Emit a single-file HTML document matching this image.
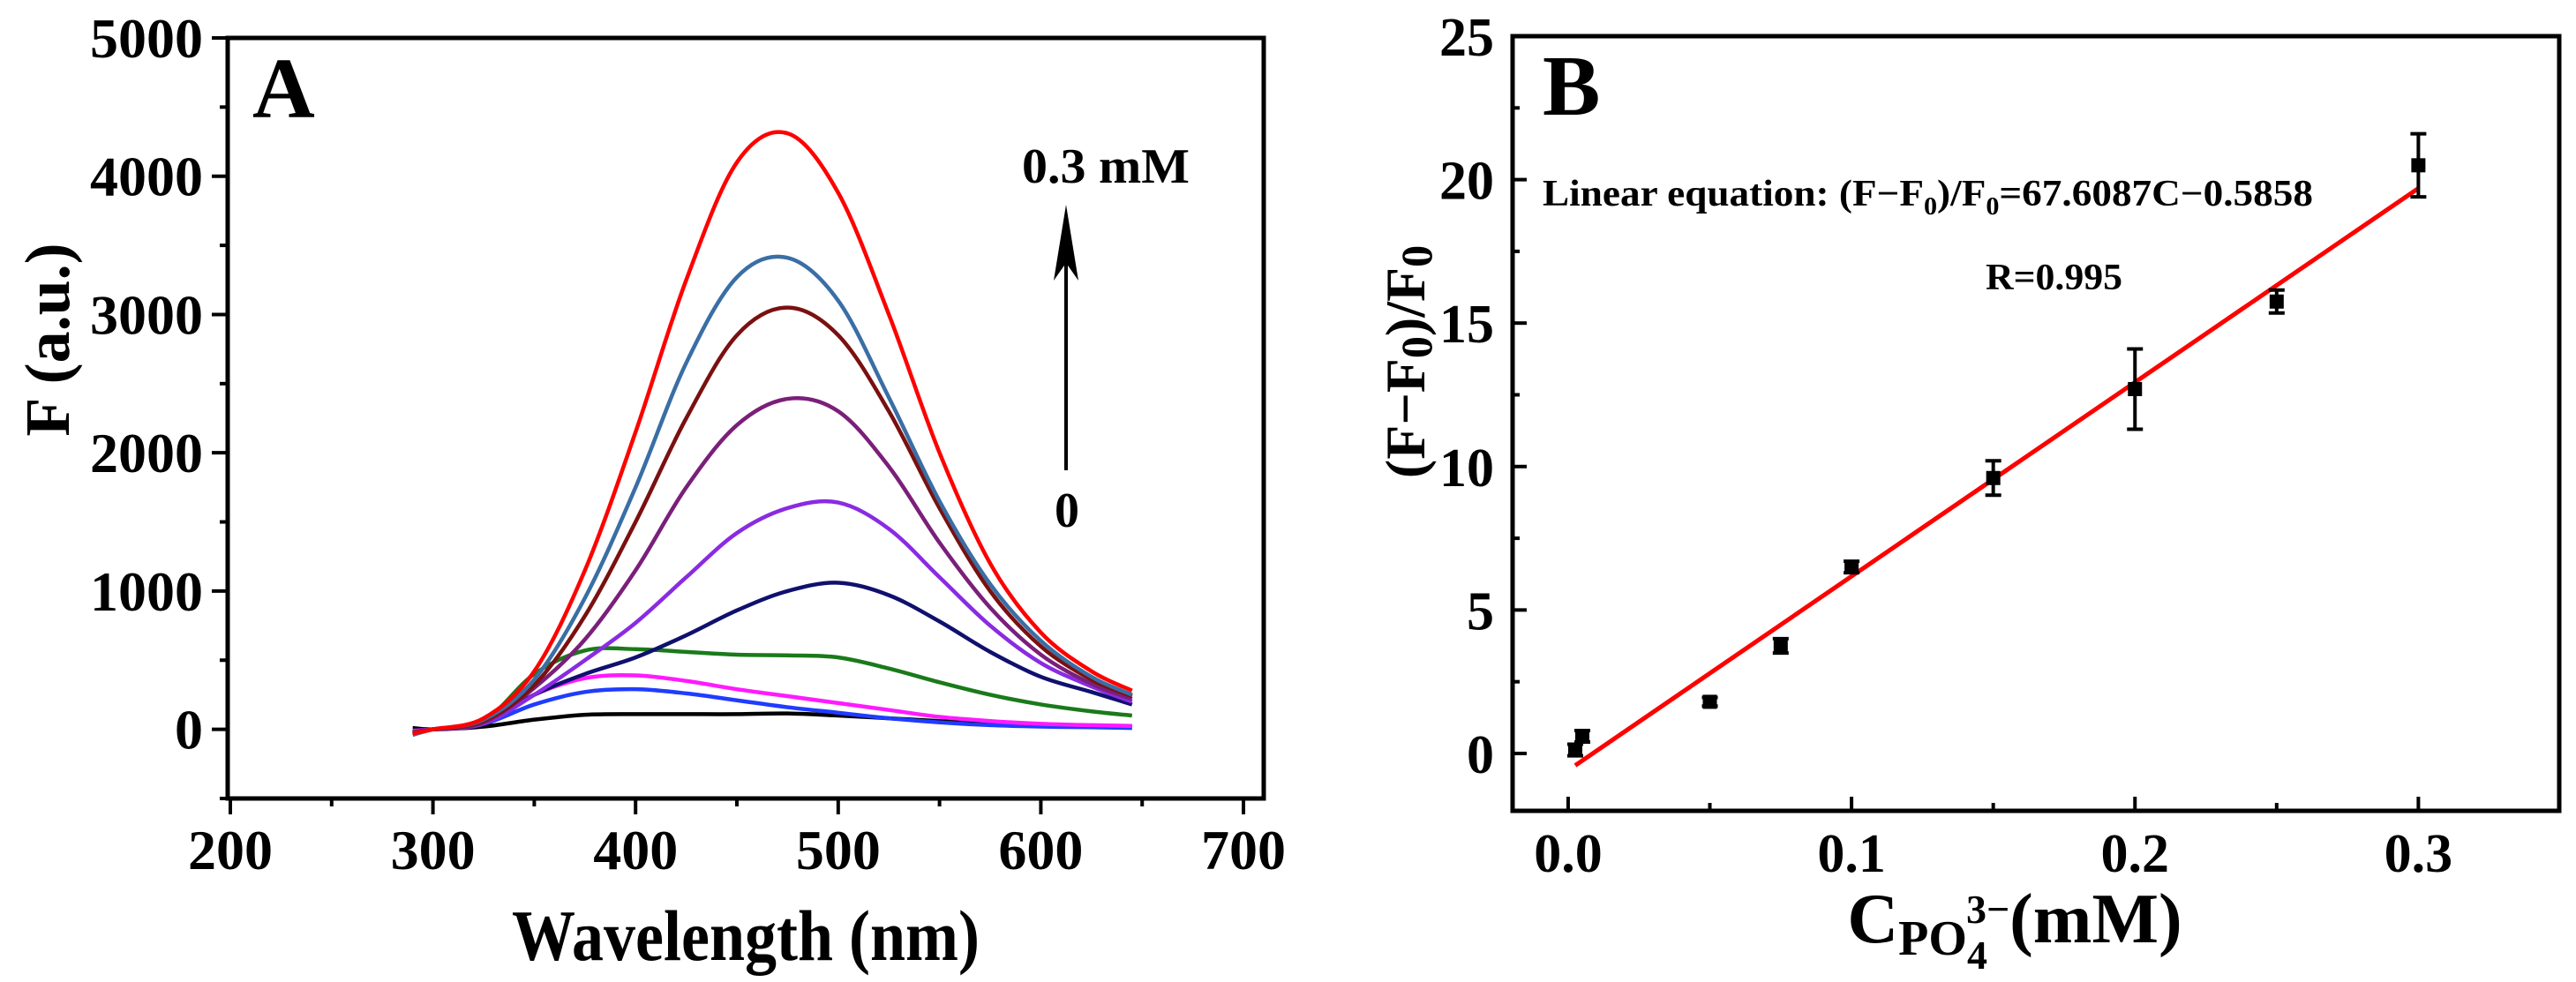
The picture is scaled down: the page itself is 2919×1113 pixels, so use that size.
<!DOCTYPE html>
<html><head><meta charset="utf-8"><style>
html,body{margin:0;padding:0;background:#fff;}
svg{display:block;font-family:"Liberation Serif",serif;font-weight:bold;}
</style></head><body>
<svg id="chart" width="2919" height="1113" viewBox="0 0 2919 1113" xmlns="http://www.w3.org/2000/svg">
<g id="pa"></g>
<g id="pb"></g>
</svg>
<script>
// Panel A data
const wavelengths = [290,300,325,350,375,400,425,450,475,500,525,550,575,600,625,645];
const seriesRed = [-30,0,80,420,1150,2150,3250,4100,4310,3880,3000,2000,1200,700,420,280];
const seriesSteel = [-40,0,70,360,950,1750,2650,3270,3410,3100,2400,1650,1050,640,380,250];
const seriesDarkRed = [-30,0,60,320,820,1500,2250,2850,3050,2850,2300,1600,1000,600,360,240];
const seriesPurple = [-20,0,50,300,650,1150,1750,2200,2390,2300,1900,1350,880,540,330,220];
const seriesViolet = [-20,0,40,250,500,770,1100,1420,1600,1640,1450,1100,750,480,310,200];
const seriesNavy = [-20,0,40,250,400,520,680,860,1000,1060,970,780,560,380,270,180];
const seriesGreen = [-20,0,60,400,570,580,560,540,535,520,440,340,250,180,130,100];
const seriesMagenta = [-10,0,50,250,370,390,350,290,240,190,140,90,60,40,30,25];
const seriesBlue = [-10,0,40,180,270,290,260,210,160,120,80,50,30,20,15,10];
const seriesBlack = [10,0,20,70,105,110,110,110,115,100,80,60,45,30,25,20];
const aXTicks = [200,300,400,500,600,700];
const aYTicks = [0,1000,2000,3000,4000,5000];
// Panel B data
const concentrations = [0.0025,0.005,0.05,0.075,0.1,0.15,0.2,0.25,0.3];
const ratios = [0.12,0.6,1.8,3.75,6.5,9.6,12.7,15.75,20.5];
const errors = [0.2,0.2,0.15,0.25,0.2,0.6,1.4,0.4,1.1];
const fitSlope = [67.6087];
const fitIntercept = [-0.5858];
const bXTicks = [0.0,0.1,0.2,0.3];
const bXTickLabels = ["0.0","0.1","0.2","0.3"];
const bYTicks = [0,5,10,15,20,25];

const NS="http://www.w3.org/2000/svg";
function mk(parent,tag,attrs,text){const e=document.createElementNS(NS,tag);for(const k in attrs)e.setAttribute(k,attrs[k]);if(text!==undefined)e.textContent=text;parent.appendChild(e);return e;}

// Panel A axes
const ax={x0:198.7,x1:710,px0:258,px1:1432};
const ay={y0:-500,y1:5000,py0:905,py1:43};
const AX=v=>ax.px0+(v-ax.x0)/(ax.x1-ax.x0)*(ax.px1-ax.px0);
const AY=v=>ay.py0+(v-ay.y0)/(ay.y1-ay.y0)*(ay.py1-ay.py0);
const pa=document.getElementById('pa');
function smooth(xs,ys){let pts=xs.map((x,i)=>[AX(x),AY(ys[i])]);let d='M'+pts[0][0]+','+pts[0][1];
for(let i=0;i<pts.length-1;i++){const p0=pts[i-1]||pts[i],p1=pts[i],p2=pts[i+1],p3=pts[i+2]||p2;
const c1=[p1[0]+(p2[0]-p0[0])/6,p1[1]+(p2[1]-p0[1])/6],c2=[p2[0]-(p3[0]-p1[0])/6,p2[1]-(p3[1]-p1[1])/6];
d+=' C'+c1[0]+','+c1[1]+' '+c2[0]+','+c2[1]+' '+p2[0]+','+p2[1];}return d;}
const aSeries=[[seriesBlack,'#000000','spectrum-0'],[seriesBlue,'#1f3cff','spectrum-blue'],[seriesMagenta,'#ff1aff','spectrum-magenta'],[seriesGreen,'#1a7a1a','spectrum-green'],[seriesNavy,'#10106e','spectrum-navy'],[seriesViolet,'#8a2be2','spectrum-violet'],[seriesPurple,'#7a1f7a','spectrum-purple'],[seriesDarkRed,'#7a1010','spectrum-darkred'],[seriesSteel,'#3a6ea5','spectrum-steelblue'],[seriesRed,'#ff0000','spectrum-0.3mM']];
aSeries.forEach(s=>{const p=mk(pa,'path',{d:smooth(wavelengths,s[0]),fill:'none',stroke:s[1],'stroke-width':4.5});

});
const fa=mk(pa,'rect',{x:ax.px0,y:ay.py1,width:ax.px1-ax.px0,height:ay.py0-ay.py1,fill:'none',stroke:'#000','stroke-width':5});

aXTicks.forEach(v=>{mk(pa,'line',{x1:AX(v),x2:AX(v),y1:ay.py0,y2:ay.py0+18,stroke:'#000','stroke-width':4});
const t=mk(pa,'text',{x:AX(v),y:985,'font-size':64,'text-anchor':'middle'},String(v));
});
for(let i=0;i<aXTicks.length-1;i++){const m=(aXTicks[i]+aXTicks[i+1])/2;mk(pa,'line',{x1:AX(m),x2:AX(m),y1:ay.py0,y2:ay.py0+9,stroke:'#000','stroke-width':4});}
aYTicks.forEach(v=>{mk(pa,'line',{x1:ax.px0-18,x2:ax.px0,y1:AY(v),y2:AY(v),stroke:'#000','stroke-width':4});
const t=mk(pa,'text',{x:230,y:AY(v)+22,'font-size':64,'text-anchor':'end'},String(v));
});
[-500,500,1500,2500,3500,4500].forEach(v=>mk(pa,'line',{x1:ax.px0-9,x2:ax.px0,y1:AY(v),y2:AY(v),stroke:'#000','stroke-width':4}));
let t;
t=mk(pa,'text',{x:580,y:1088,'font-size':82,textLength:530,lengthAdjust:'spacingAndGlyphs'},'Wavelength (nm)');
t=mk(pa,'text',{x:0,y:0,'font-size':72,'text-anchor':'middle',transform:'translate(78,385) rotate(-90)'},'F (a.u.)');
t=mk(pa,'text',{x:286,y:133,'font-size':98},'A');
t=mk(pa,'text',{x:1158,y:207,'font-size':56,textLength:190,lengthAdjust:'spacingAndGlyphs'},'0.3 mM');
t=mk(pa,'text',{x:1209,y:597,'font-size':56,'text-anchor':'middle'},'0');
mk(pa,'line',{x1:1208,x2:1208,y1:533,y2:290,stroke:'#000','stroke-width':4});
t=mk(pa,'path',{d:'M1208,232 L1222,318 L1208,298 L1194,318 Z',fill:'#000'});

// Panel B axes
const bx={x0:-0.0196,x1:0.3497,px0:1714,px1:2900};
const by={y0:-2,y1:25,py0:919,py1:41};
const BX=v=>bx.px0+(v-bx.x0)/(bx.x1-bx.x0)*(bx.px1-bx.px0);
const BY=v=>by.py0+(v-by.y0)/(by.y1-by.y0)*(by.py1-by.py0);
const pb=document.getElementById('pb');
const fb=mk(pb,'rect',{x:bx.px0,y:by.py1,width:bx.px1-bx.px0,height:by.py0-by.py1,fill:'none',stroke:'#000','stroke-width':5});

bXTicks.forEach((v,i)=>{mk(pb,'line',{x1:BX(v),x2:BX(v),y1:by.py0,y2:by.py0-16,stroke:'#000','stroke-width':4});
const tt=mk(pb,'text',{x:BX(v),y:988,'font-size':62,'text-anchor':'middle'},bXTickLabels[i]);
});
[0.05,0.15,0.25].forEach(v=>mk(pb,'line',{x1:BX(v),x2:BX(v),y1:by.py0,y2:by.py0-9,stroke:'#000','stroke-width':4}));
bYTicks.forEach(v=>{mk(pb,'line',{x1:bx.px0,x2:bx.px0+16,y1:BY(v),y2:BY(v),stroke:'#000','stroke-width':4});
const tt=mk(pb,'text',{x:1693,y:BY(v)+22,'font-size':62,'text-anchor':'end'},String(v));
});
[2.5,7.5,12.5,17.5,22.5].forEach(v=>mk(pb,'line',{x1:bx.px0,x2:bx.px0+8,y1:BY(v),y2:BY(v),stroke:'#000','stroke-width':4}));
const xs0=concentrations[0],xs1=concentrations[concentrations.length-1];
t=mk(pb,'line',{x1:BX(xs0),y1:BY(fitSlope[0]*xs0+fitIntercept[0]),x2:BX(xs1),y2:BY(fitSlope[0]*xs1+fitIntercept[0]),stroke:'#ff0000','stroke-width':5});

concentrations.forEach((c,i)=>{const x=BX(c),y=BY(ratios[i]),yt=BY(ratios[i]+errors[i]),yb=BY(ratios[i]-errors[i]);
const g=mk(pb,'g',{});


mk(g,'line',{x1:x,x2:x,y1:yt,y2:yb,stroke:'#000','stroke-width':4});
mk(g,'line',{x1:x-9,x2:x+9,y1:yt,y2:yt,stroke:'#000','stroke-width':4});
mk(g,'line',{x1:x-9,x2:x+9,y1:yb,y2:yb,stroke:'#000','stroke-width':4});
mk(g,'rect',{x:x-8,y:y-8,width:16,height:16,fill:'#000'});});
t=mk(pb,'text',{x:1748,y:130,'font-size':98},'B');
t=mk(pb,'text',{x:1748,y:233,'font-size':42,textLength:873,lengthAdjust:'spacingAndGlyphs'});
t.innerHTML='Linear equation: (F−F<tspan font-size="28" dy="10">0</tspan><tspan dy="-10">)/F</tspan><tspan font-size="28" dy="10">0</tspan><tspan dy="-10">=67.6087C−0.5858</tspan>';
t=mk(pb,'text',{x:2250,y:328,'font-size':42,textLength:155,lengthAdjust:'spacingAndGlyphs'},'R=0.995');
t=mk(pb,'text',{x:0,y:0,'font-size':64,'text-anchor':'middle',transform:'translate(1614,410) rotate(-90)'});
t.innerHTML='(F−F<tspan font-size="50" dy="8">0</tspan><tspan dy="-8">)/F</tspan><tspan font-size="50" dy="8">0</tspan>';
t=mk(pb,'text',{x:2283,y:1068,'font-size':80,'text-anchor':'middle'});
t.innerHTML='C<tspan font-size="56" dy="14">PO</tspan><tspan font-size="46" dy="16">4</tspan><tspan font-size="46" dx="-24" dy="-52">3−</tspan><tspan dy="22">(mM)</tspan>';
</script>
</body></html>
